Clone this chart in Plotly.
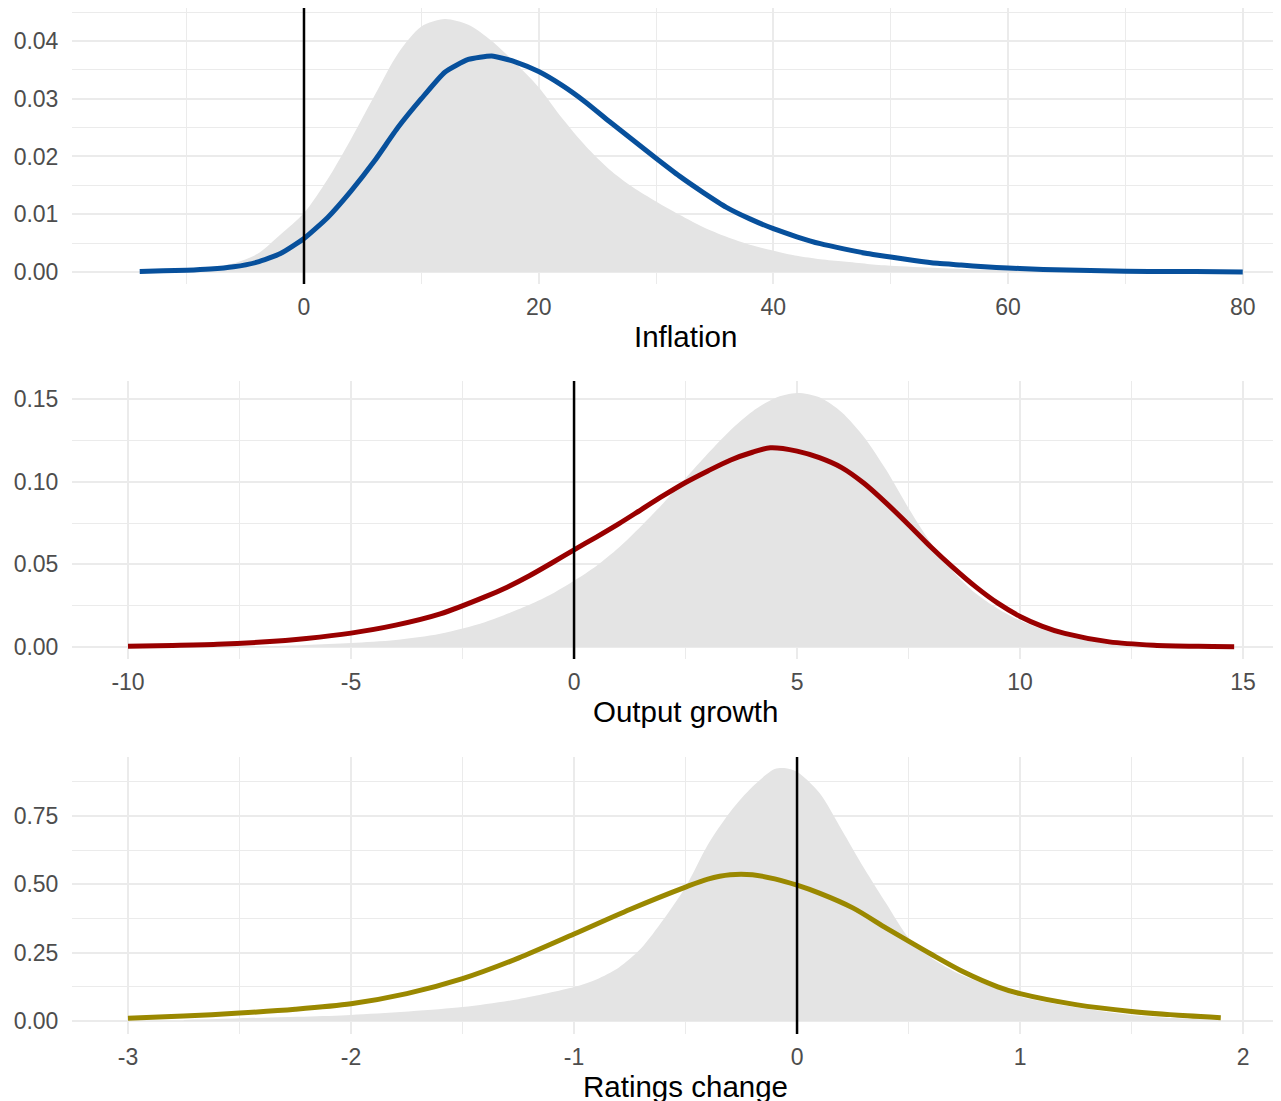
import plotly.graph_objects as go

# ---------------- data ----------------
# Panel 1: Inflation
infl_line_x = [-14, -12, -10, -8, -6, -4, -2, 0, 2, 4, 6, 8, 10, 12, 14, 16, 18, 20, 22, 24,
               26, 28, 30, 32, 34, 36, 38, 40, 42, 44, 46, 48, 50, 52, 54, 56, 58, 60, 62, 64,
               66, 68, 72, 76, 80]
infl_line_y = [0.0001, 0.0002, 0.0003, 0.0005, 0.0009, 0.0017, 0.0032, 0.0058, 0.0094, 0.0140,
               0.0192, 0.0250, 0.0300, 0.0346, 0.0368, 0.0374, 0.0364, 0.0347, 0.0323, 0.0294,
               0.0261, 0.0229, 0.0197, 0.0166, 0.0138, 0.0112, 0.0092, 0.0075, 0.0061, 0.0049,
               0.0040, 0.0032, 0.0026, 0.0020, 0.0015, 0.0012, 0.0009, 0.0007, 0.0005, 0.0004,
               0.0003, 0.0002, 0.0001, 0.0001, 0.0000]
infl_dens_x = [-12, -10, -8, -6, -4, -2, 0, 2, 4, 6, 8, 10, 12, 14, 16, 18, 20, 22, 24, 26,
               28, 30, 32, 34, 36, 38, 40, 42, 44, 46, 48, 50, 54, 58, 62, 66, 70, 76, 80]
infl_dens_y = [0.0001, 0.0003, 0.0007, 0.0015, 0.0031, 0.0065, 0.0102, 0.0160, 0.0230, 0.0305,
               0.0378, 0.0425, 0.0438, 0.0428, 0.0400, 0.0362, 0.0320, 0.0266, 0.0218, 0.0178,
               0.0147, 0.0122, 0.0099, 0.0078, 0.0061, 0.0047, 0.0037, 0.0028, 0.0022, 0.0018,
               0.0014, 0.0011, 0.0007, 0.0004, 0.0003, 0.0002, 0.0001, 0.0001, 0.0000]

# Panel 2: Output growth
out_line_x = [-10, -9, -8, -7, -6, -5, -4, -3, -2, -1.5, -1, -0.5, 0, 0.5, 1, 1.5, 2, 2.5, 3,
              3.5, 4, 4.4, 5, 5.5, 6, 6.5, 7, 7.5, 8, 8.5, 9, 9.5, 10, 10.5, 11, 12, 13, 14,
              14.8]
out_line_y = [0.0005, 0.0009, 0.0016, 0.0030, 0.0052, 0.0084, 0.0132, 0.0200, 0.0303, 0.0362,
              0.0431, 0.0508, 0.0588, 0.0665, 0.0745, 0.0830, 0.0915, 0.0995, 0.1065, 0.1130,
              0.1178, 0.1205, 0.1185, 0.1145, 0.1085, 0.0990, 0.0870, 0.0740, 0.0605, 0.0480,
              0.0365, 0.0265, 0.0185, 0.0125, 0.0082, 0.0031, 0.0011, 0.0004, 0.0002]
out_dens_x = [-9, -8, -7, -6, -5, -4, -3, -2, -1, -0.5, 0, 0.5, 1, 1.5, 2, 2.5, 3, 3.5, 4, 4.5,
              5, 5.5, 6, 6.5, 7, 7.5, 8, 8.5, 9, 9.5, 10, 10.5, 11, 11.5, 12, 12.5, 13, 14]
out_dens_y = [0.0000, 0.0001, 0.0003, 0.0012, 0.0024, 0.0042, 0.0080, 0.0150, 0.0255, 0.0320,
              0.0400, 0.0490, 0.0600, 0.0730, 0.0870, 0.1020, 0.1170, 0.1310, 0.1425, 0.1505,
              0.1536, 0.1510, 0.1420, 0.1270, 0.1070, 0.0840, 0.0630, 0.0455, 0.0325, 0.0232,
              0.0160, 0.0108, 0.0068, 0.0040, 0.0022, 0.0010, 0.0004, 0.0001]

# Panel 3: Ratings change
rat_line_x = [-3.0, -2.75, -2.5, -2.25, -2.0, -1.75, -1.5, -1.25, -1.0, -0.75, -0.5, -0.4,
              -0.3, -0.2, -0.1, 0.0, 0.1, 0.25, 0.4, 0.5, 0.6, 0.75, 0.9, 1.0, 1.25, 1.5,
              1.75, 1.9]
rat_line_y = [0.010, 0.018, 0.029, 0.043, 0.063, 0.100, 0.155, 0.230, 0.318, 0.408, 0.490,
              0.519, 0.535, 0.535, 0.520, 0.497, 0.468, 0.414, 0.340, 0.292, 0.245, 0.178,
              0.125, 0.100, 0.060, 0.035, 0.019, 0.012]
rat_dens_x = [-2.75, -2.5, -2.0, -1.5, -1.25, -1.0, -0.9, -0.8, -0.7, -0.6, -0.5, -0.4, -0.3,
              -0.2, -0.1, -0.05, 0.0, 0.1, 0.2, 0.3, 0.4, 0.5, 0.6, 0.7, 0.8, 0.9, 1.0, 1.25,
              1.5, 1.75, 1.9]
rat_dens_y = [0.004, 0.010, 0.022, 0.051, 0.080, 0.124, 0.152, 0.195, 0.265, 0.370, 0.490,
              0.645, 0.765, 0.857, 0.922, 0.925, 0.912, 0.835, 0.700, 0.560, 0.430, 0.305,
              0.232, 0.183, 0.148, 0.117, 0.089, 0.050, 0.022, 0.008, 0.004]

# tick labels
infl_xticks = [0, 20, 40, 60, 80]
infl_xlabels = ["0", "20", "40", "60", "80"]
infl_yticks = [0.00, 0.01, 0.02, 0.03, 0.04]
infl_ylabels = ["0.00", "0.01", "0.02", "0.03", "0.04"]
out_xticks = [-10, -5, 0, 5, 10, 15]
out_xlabels = ["-10", "-5", "0", "5", "10", "15"]
out_yticks = [0.00, 0.05, 0.10, 0.15]
out_ylabels = ["0.00", "0.05", "0.10", "0.15"]
rat_xticks = [-3, -2, -1, 0, 1, 2]
rat_xlabels = ["-3", "-2", "-1", "0", "1", "2"]
rat_yticks = [0.00, 0.25, 0.50, 0.75]
rat_ylabels = ["0.00", "0.25", "0.50", "0.75"]

titles = ["Inflation", "Output growth", "Ratings change"]

# ---------------- styling ----------------
OFF = 8  # browser body margin
W, H = 1281 - OFF, 1101 - OFF
FONT = "Liberation Sans, Arial, sans-serif"
GRID = "#EBEBEB"
FILL = "#E4E4E4"
colors = ["#07509C", "#990000", "#9A8800"]

panels = [
    dict(lx=infl_line_x, ly=infl_line_y, dx=infl_dens_x, dy=infl_dens_y,
         xt=infl_xticks, xl=infl_xlabels, yt=infl_yticks, yl=infl_ylabels,
         xr=[-19.77, 83.26], yr=[-0.002078, 0.04571], xminor=10, yminor=0.005,
         top=8, bottom=284, dshape="spline", lshape="spline", lsmooth=0.5),
    dict(lx=out_line_x, ly=out_line_y, dx=out_dens_x, dy=out_dens_y,
         xt=out_xticks, xl=out_xlabels, yt=out_yticks, yl=out_ylabels,
         xr=[-11.256, 15.85], yr=[-0.00726, 0.1609], xminor=2.5, yminor=0.025,
         top=381, bottom=659, dshape="spline", lshape="spline", lsmooth=0.8),
    dict(lx=rat_line_x, ly=rat_line_y, dx=rat_dens_x, dy=rat_dens_y,
         xt=rat_xticks, xl=rat_xlabels, yt=rat_yticks, yl=rat_ylabels,
         xr=[-3.251, 2.170], yr=[-0.04756, 0.9659], xminor=0.5, yminor=0.125,
         top=757, bottom=1034, dshape="spline", lshape="spline", lsmooth=0.8),
]

fig = go.Figure()
layout = dict(width=W, height=H, margin=dict(l=0, r=0, t=0, b=0),
              paper_bgcolor="white", plot_bgcolor="white", showlegend=False,
              font=dict(family=FONT, size=23, color="#4D4D4D"))
annotations = []
shapes = []
x_left = (72 - OFF) / W

for i, p in enumerate(panels):
    n = "" if i == 0 else str(i + 1)
    xa, ya = "x" + n, "y" + n
    fig.add_trace(go.Scatter(x=p["dx"], y=p["dy"], mode="lines", fill="tozeroy",
                             fillcolor=FILL, line=dict(width=0, shape=p["dshape"], smoothing=0.8),
                             xaxis=xa, yaxis=ya, hoverinfo="skip"))
    fig.add_trace(go.Scatter(x=p["lx"], y=p["ly"], mode="lines",
                             line=dict(color=colors[i], width=5, shape=p["lshape"],
                                       smoothing=p["lsmooth"]),
                             xaxis=xa, yaxis=ya))
    dom = [1 - (p["bottom"] - OFF) / H, 1 - (p["top"] - OFF) / H]
    layout["xaxis" + n] = dict(domain=[x_left, 1], range=p["xr"], anchor=ya,
                               tickvals=p["xt"], ticktext=p["xl"],
                               showgrid=True, gridcolor=GRID, gridwidth=2,
                               zeroline=False, showline=False,
                               ticks="outside", ticklen=2, tickcolor="rgba(0,0,0,0)",
                               tickfont=dict(size=23, color="#4D4D4D"),
                               minor=dict(dtick=p["xminor"], tick0=0, showgrid=True,
                                          gridcolor=GRID, gridwidth=1, ticks=""))
    layout["yaxis" + n] = dict(domain=dom, range=p["yr"], anchor=xa,
                               tickvals=p["yt"], ticktext=p["yl"],
                               showgrid=True, gridcolor=GRID, gridwidth=2,
                               zeroline=False, showline=False,
                               ticks="outside", ticklen=8, tickcolor="rgba(0,0,0,0)",
                               tickfont=dict(size=23, color="#4D4D4D"),
                               minor=dict(dtick=p["yminor"], tick0=0, showgrid=True,
                                          gridcolor=GRID, gridwidth=1, ticks=""))
    shapes.append(dict(type="line", xref=xa, yref=ya + " domain", x0=0, x1=0, y0=0, y1=1,
                       line=dict(color="black", width=2.5), layer="above"))
    title_y = p["bottom"] + 52 - OFF
    annotations.append(dict(text=titles[i], xref="paper", yref="paper",
                            x=(686 - OFF) / W, y=1 - title_y / H, xanchor="center",
                            yanchor="middle", showarrow=False,
                            font=dict(family=FONT, size=29.5, color="black")))

layout["shapes"] = shapes
layout["annotations"] = annotations
fig.update_layout(**layout)
fig.write_html("out.html")
